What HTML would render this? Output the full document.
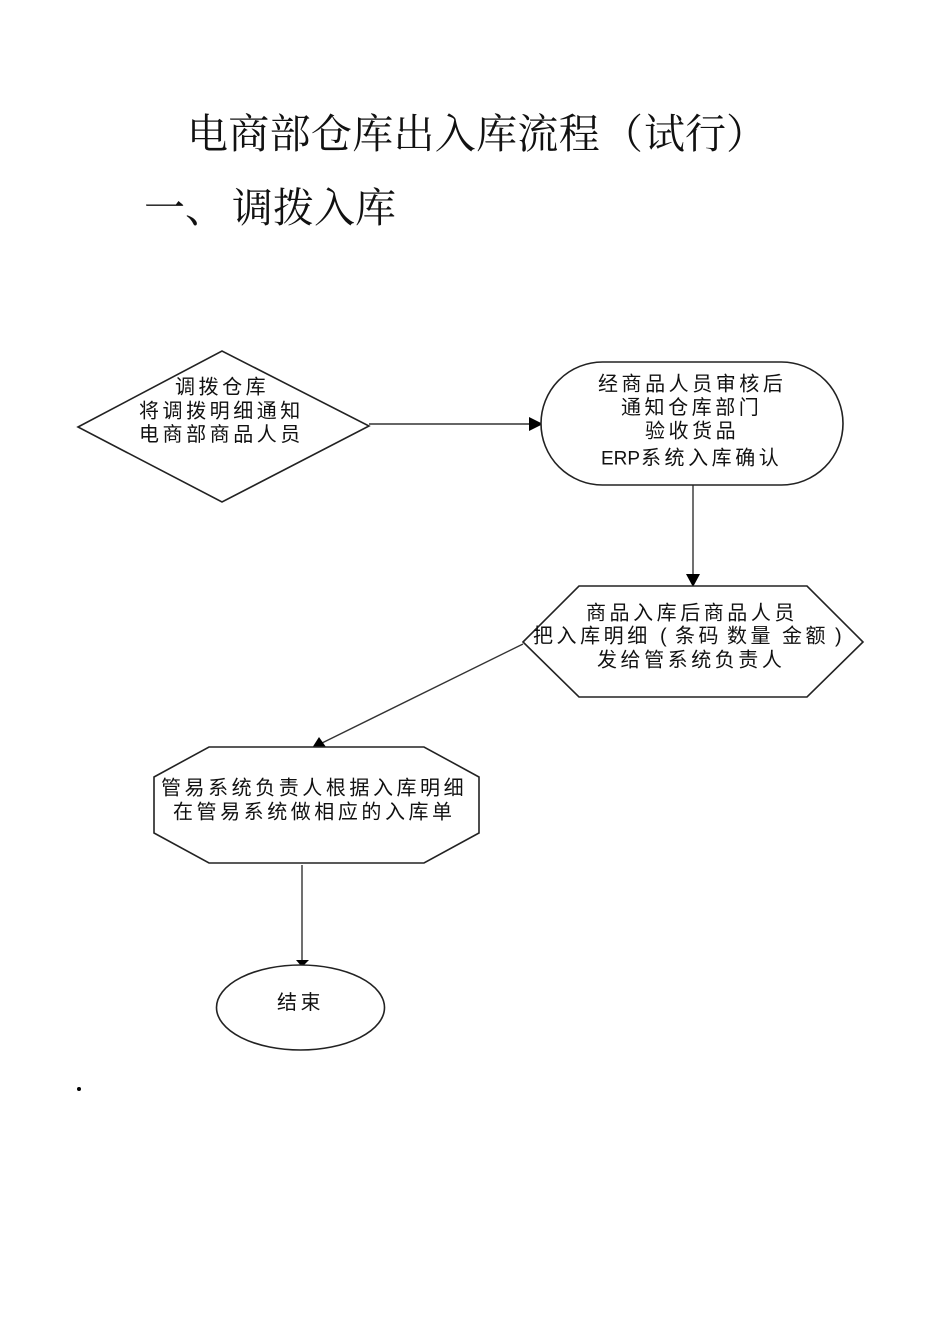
<!DOCTYPE html>
<html lang="zh">
<head>
<meta charset="utf-8">
<style>
html,body{margin:0;padding:0;background:#fff;}
svg{display:block;}
.t{font-family:"Liberation Serif","Noto Serif CJK SC",serif;font-size:41px;fill:#111;}
.n{font-family:"Liberation Sans","Noto Sans CJK SC",sans-serif;font-size:20px;letter-spacing:3.55px;fill:#111;}
.s{fill:#fff;stroke:#222;stroke-width:1.6;}
.l{stroke:#333;stroke-width:1.4;fill:none;}
</style>
</head>
<body>
<svg width="950" height="1344" viewBox="0 0 950 1344" xmlns="http://www.w3.org/2000/svg">
<rect width="950" height="1344" fill="#fff"/>
<text class="t" x="187" y="148" letter-spacing="0.3">电商部仓库出入库流程</text>
<text class="t" x="602" y="148">（</text>
<text class="t" x="644" y="148">试行</text>
<text class="t" x="726" y="148">）</text>
<text class="t" x="144" y="222">一、</text>
<text class="t" x="232" y="222">调拨入库</text>

<line class="l" x1="369" y1="424" x2="530" y2="424"/>
<polygon points="529,417 543,424 529,431" fill="#000"/>
<line class="l" x1="693" y1="485" x2="693" y2="575"/>
<polygon points="686,574 700,574 693,587" fill="#000"/>
<line class="l" x1="523" y1="644" x2="322" y2="743"/>
<polygon points="312,748 319,737 326,747" fill="#000"/>
<line class="l" x1="302" y1="865" x2="302" y2="962"/>
<polygon points="296,960 309,960 302,967" fill="#000"/>

<polygon class="s" points="78,427 222,351 369,426 222,502"/>
<rect class="s" x="541" y="362" width="302" height="123" rx="61.5" ry="61.5"/>
<polygon class="s" points="523,642 579,586 807,586 863,642 807,697 579,697"/>
<polygon class="s" points="154,777 209,747 424,747 479,777 479,833 424,863 209,863 154,833"/>
<ellipse class="s" cx="300.5" cy="1007.5" rx="84" ry="42.5"/>

<text class="n" x="175" y="393.5">调拨仓库</text>
<text class="n" x="139" y="417.5">将调拨明细通知</text>
<text class="n" x="139" y="441">电商部商品人员</text>

<text class="n" x="598" y="390.5">经商品人员审核后</text>
<text class="n" x="621" y="414">通知仓库部门</text>
<text class="n" x="645" y="437.5">验收货品</text>
<text class="n" x="601" y="464.5" style="letter-spacing:0;font-size:19px">ERP</text>
<text class="n" x="641" y="464.5">系统入库确认</text>

<text class="n" x="586" y="619.5">商品入库后商品人员</text>
<text class="n" x="533" y="642.5">把入库明细</text>
<text class="n" x="660" y="642.5">(</text>
<text class="n" x="675" y="642.5">条码</text>
<text class="n" x="727" y="642.5">数量</text>
<text class="n" x="782" y="642.5">金额</text>
<text class="n" x="835" y="642.5">)</text>
<text class="n" x="597" y="666.5">发给管系统负责人</text>

<text class="n" x="161" y="794.5">管易系统负责人根据入库明细</text>
<text class="n" x="173" y="818.5">在管易系统做相应的入库单</text>

<text class="n" x="277" y="1009">结束</text>

<circle cx="79" cy="1089" r="2" fill="#000"/>
</svg>
</body>
</html>
